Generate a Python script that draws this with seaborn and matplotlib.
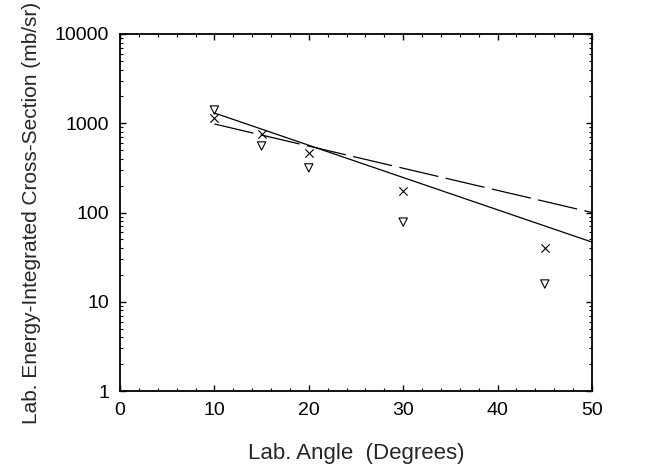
import numpy as np
import pandas as pd
import seaborn as sns
import matplotlib.pyplot as plt
from matplotlib.ticker import MultipleLocator, LogLocator, FixedLocator

# measured points (lab angle in degrees, cross-section in mb/sr)
angles = [10, 15, 20, 30, 45]
cross_x = [1145, 758, 464, 174, 40]
cross_tri = [1406, 556, 316, 78, 15.8]

# fitted lines (end points)
fit_solid_x = [10, 50]
fit_solid_y = [1303, 46.6]
fit_dash_x = [10, 50]
fit_dash_y = [981, 100]

sns.set_theme(style="ticks")
plt.rcParams['font.family'] = ['Liberation Sans', 'DejaVu Sans']

fig = plt.figure(figsize=(6.67, 4.70), dpi=100)
ax = fig.add_axes([120 / 667, 1 - 391 / 470, 472 / 667, 357 / 470])

df = pd.DataFrame({"angle": angles, "x": cross_x, "tri": cross_tri})

sns.lineplot(x=fit_solid_x, y=fit_solid_y, ax=ax, color="black", lw=0.9)
sns.lineplot(x=fit_dash_x, y=fit_dash_y, ax=ax, color="black", lw=0.9,
             dashes=False)
ax.lines[-1].set_linestyle((0, (32, 6)))

sns.scatterplot(data=df, x="angle", y="x", ax=ax, marker="x", s=36,
                color="black", linewidth=0.8)
sns.scatterplot(data=df, x="angle", y="tri", ax=ax, marker="v", s=36,
                facecolor="none", edgecolor="black", linewidth=0.8)

ax.set_yscale("log")
ax.set_xlim(0, 50)
ax.set_ylim(1, 10000)
ax.xaxis.set_major_locator(MultipleLocator(10))
ax.xaxis.set_minor_locator(MultipleLocator(2))
ax.yaxis.set_major_locator(FixedLocator([1, 10, 100, 1000, 10000]))
ax.yaxis.set_minor_locator(LogLocator(base=10, subs=np.arange(2, 10)))
ax.set_yticklabels(["1", "10", "100", "1000", "10000"])
ax.yaxis.set_minor_formatter(plt.NullFormatter())

for sp in ax.spines.values():
    sp.set_linewidth(1.3)
    sp.set_color("black")
ax.tick_params(which="both", direction="in", top=True, right=True,
               labelsize=14, colors="black")
ax.tick_params(which="major", length=4, width=1.0, pad=8)
ax.tick_params(which="minor", length=2.5, width=0.8)

ax.set_xlabel("Lab. Angle  (Degrees)", fontsize=16, labelpad=17)
ax.set_ylabel("Lab. Energy-Integrated Cross-Section (mb/sr)", fontsize=15,
              labelpad=10)

fig.savefig("out.png", dpi=100)
